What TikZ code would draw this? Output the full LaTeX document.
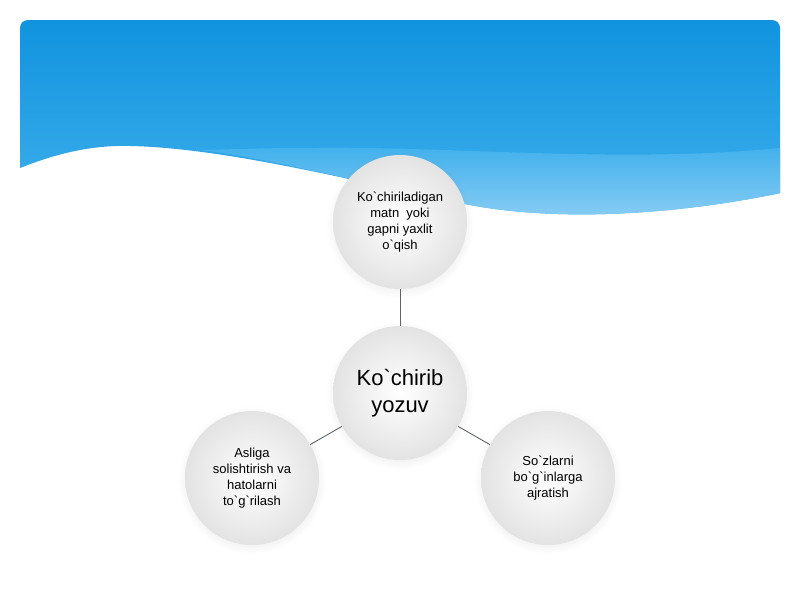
\documentclass[tikz,border=0pt]{standalone}
\usepackage{fontspec}
\setmainfont{Liberation Sans}[Ligatures=TeXOff]
\usetikzlibrary{shadows}

\definecolor{skytop}{RGB}{14,146,222}
\definecolor{skybottom}{RGB}{64,176,236}
\definecolor{skylight}{RGB}{140,206,244}
\definecolor{linkgray}{RGB}{90,100,110}
\newcommand{\grv}{\symbol{96}}

\begin{document}
\begin{tikzpicture}[x=1pt,y=-1pt,
  ball/.style={circle, minimum size=134pt, inner sep=0pt, align=center,
    font=\fontsize{13}{16}\selectfont, inner color=white, outer color=black!11,
    circular drop shadow={shadow xshift=0pt, shadow yshift=-2pt, opacity=0.1}},
  link/.style={draw=linkgray, line width=0.9pt}]

  % Page
  \useasboundingbox (0,0) rectangle (800,600);
  \fill[white] (0,0) rectangle (800,600);

  % Sky above the wave
  \begin{scope}
    \clip[rounded corners=8pt] (20,20) rectangle (780,640);
    \shade[top color=skytop, bottom color=skybottom] (10,10) -- (790,10) -- (790,191)
      .. controls (680,215) and (560,222) .. (470,205)
      .. controls (370,185) and (230,148) .. (130,146)
      .. controls (95,145) and (60,152) .. (20,168) -- (10,172) -- cycle;
    \shade[top color=skybottom, bottom color=skylight] (200,150)
      .. controls (240,149) and (270,148) .. (300,148)
      .. controls (450,145) and (620,165) .. (790,147) -- (790,191)
      .. controls (680,215) and (560,222) .. (470,205)
      .. controls (370,185) and (260,156) .. (200,150) -- cycle;
  \end{scope}

  % Circles
  \node[ball] (read) at (400,222) {Ko\grv chiriladigan\\matn\ \ yoki\\gapni yaxlit\\o\grv qish};
  \node[ball, font=\fontsize{22}{27}\selectfont] (main) at (400,393) {Ko\grv chirib\\yozuv};
  \node[ball] (check) at (252,478) {Asliga\\solishtirish va\\hatolarni\\to\grv g\grv rilash};
  \node[ball] (split) at (548,478) {So\grv zlarni\\bo\grv g\grv inlarga\\ajratish};

  % Connectors
  \draw[link] (read) -- (main);
  \draw[link] (main) -- (check);
  \draw[link] (main) -- (split);

\end{tikzpicture}
\end{document}
